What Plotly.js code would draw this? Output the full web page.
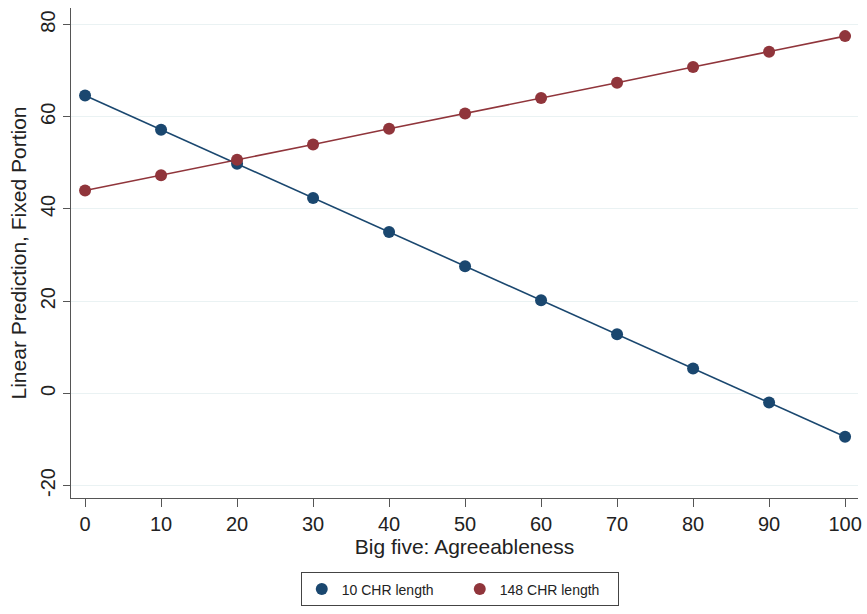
<!DOCTYPE html>
<html><head><meta charset="utf-8">
<script src="https://cdn.plot.ly/plotly-3.0.1.min.js"></script>
<style>html,body{margin:0;padding:0;background:#fff;}#chart{width:867px;height:614px;}</style>
</head><body><div id="chart"></div>
<script>
const xValues = [0, 10, 20, 30, 40, 50, 60, 70, 80, 90, 100];
const shortLength = [64.6, 57.2, 49.8, 42.4, 35.0, 27.6, 20.2, 12.8, 5.4, -2.0, -9.4];
const longLength = [44.0, 47.3, 50.7, 54.0, 57.4, 60.7, 64.1, 67.4, 70.8, 74.1, 77.5];
const seriesNames = ["10 CHR length", "148 CHR length"];
const yTicks = [-20, 0, 20, 40, 60, 80];
const yTickText = ["-20", "0", "20", "40", "60", "80"];
const xTicks = [0, 10, 20, 30, 40, 50, 60, 70, 80, 90, 100];

const font = "Liberation Sans, Arial, sans-serif";
const colors = ["#1a476f", "#90353b"];
const series = [shortLength, longLength];
const traces = [];
series.forEach((ys, i) => {
  traces.push({x: xValues, y: ys, name: seriesNames[i], type: "scatter", mode: "lines+markers",
    showlegend: false, line: {color: colors[i], width: 1.6}, marker: {color: colors[i], size: 12}});
});
series.forEach((ys, i) => {
  traces.push({x: [null], y: [null], name: seriesNames[i], type: "scatter", mode: "markers",
    showlegend: true, marker: {color: colors[i], size: 12}});
});
const layout = {
  width: 867, height: 614,
  margin: {l: 71, r: 9, t: 8, b: 114},
  paper_bgcolor: "#fff", plot_bgcolor: "#fff",
  font: {family: font, color: "#222"},
  showlegend: true,
  xaxis: {range: [-1.85, 101.7], tickvals: xTicks, ticks: "outside", ticklen: 8, tickcolor: "#555",
    showline: true, linecolor: "#555", linewidth: 1.2, showgrid: false, zeroline: false, automargin: false,
    tickfont: {size: 20, family: font, color: "#222"},
    title: {text: "Big five: Agreeableness", font: {size: 21, family: font, color: "#222"}, standoff: 5}},
  yaxis: {range: [-22.7, 83.6], tickvals: yTicks, ticktext: yTickText, ticks: "outside", ticklen: 7, tickcolor: "#555",
    tickangle: -90, showline: true, linecolor: "#555", linewidth: 1.2, automargin: false,
    showgrid: true, gridcolor: "#eaf2f3", gridwidth: 1, zeroline: false,
    tickfont: {size: 20, family: font, color: "#222"},
    title: {text: "Linear Prediction, Fixed Portion", font: {size: 21, family: font, color: "#222"}, standoff: 4}},
  legend: {orientation: "h", x: 0.494, xanchor: "center", y: -0.152, yanchor: "top",
    bordercolor: "#444", borderwidth: 1, bgcolor: "#fff",
    font: {size: 14, family: font, color: "#222"}, entrywidth: 113, entrywidthmode: "pixels"}
};
Plotly.newPlot("chart", traces, layout, {displayModeBar: false});
</script></body></html>
